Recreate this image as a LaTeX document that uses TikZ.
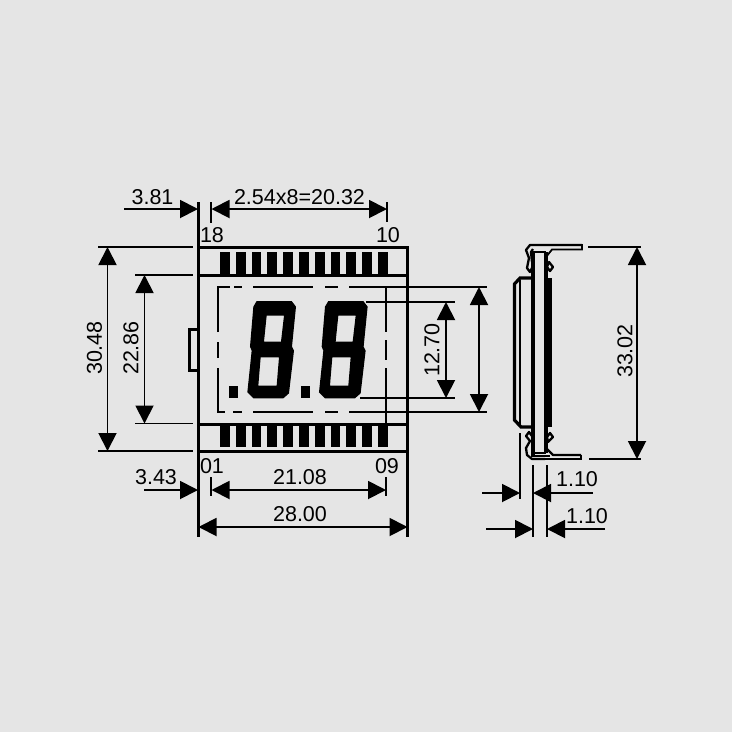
\documentclass[tikz,border=0pt]{standalone}
\usepackage{fontspec}
\setmainfont{Liberation Sans}
\usepackage{xcolor}
\usepackage{tikz}
\usetikzlibrary{arrows.meta}
\definecolor{paneback}{HTML}{E5E5E5}
\tikzset{
  dimtip/.tip={Triangle[length=18pt,width=18pt]},
  dimline/.style={line width=1.9pt},
  extline/.style={line width=1.9pt},
  framebox/.style={line width=3pt},
  dimlabel/.style={font=\fontsize{21.5}{24}\selectfont,inner sep=0pt},
  padbar/.style={fill=black,draw=none},
  clipline/.style={line width=2.3pt,line join=round},
}
\begin{document}
\begin{tikzpicture}[x=1pt,y=-1pt,>=dimtip]
\fill[paneback] (0,0) rectangle (732,732);
\useasboundingbox (0,0) rectangle (732,732);

% Points used by the dimensions
\coordinate (lt) at (198.5,247);
\coordinate (rt) at (407.5,247);
\coordinate (lb) at (198.5,451);
\coordinate (rb) at (407.5,451);

% Front view
\draw[framebox] (lt) -- (rt) -- (rb) -- (lb) -- cycle;
\draw[framebox] (198.5,275) -- (407.5,275);
\draw[framebox] (198.5,424) -- (407.5,424);
\draw[framebox] (198.5,202) -- (lt);
\draw[framebox] (lb) -- (198.5,537);
\draw[framebox] (rb) -- (407.5,537);
\draw[line width=2.4pt] (198,329.5) -- (189.5,329.5) -- (189.5,370.5) -- (198,370.5);
\foreach \i in {0,...,10}{
  \fill[padbar] ({220+15.8*\i},252) rectangle ++(9.8,22);
  \fill[padbar] ({220+15.8*\i},426) rectangle ++(9.8,21);
}

% Window
\draw[extline] (218,332) -- (218,287) -- (230,287);
\draw[extline] (234,287) -- (242,287) (253,287) -- (313,287) (325,287) -- (338,287) (349,287) -- (487,287);
\draw[extline] (218,342) -- (218,358) (218,368) -- (218,412) -- (225,412);
\draw[extline] (233,412) -- (242,412) (253,412) -- (313,412) (325,412) -- (338,412) (349,412) -- (487,412);
\draw[extline] (386,287) -- (386,332) (386,340) -- (386,360) (386,368) -- (386,424);

% Digits
\foreach \dx in {0,215}{
\begin{scope}[shift={(215,285)},x=0.3333pt,y=-0.3333pt,xshift=\dx*0.3333pt]
\fill[even odd rule] (125,48) -- (230,48) -- (243,65) -- (231,185) -- (237,197) -- (222,325) -- (205,340) -- (115,340) -- (97,322) -- (110,197) -- (105,185) -- (115,65) -- cycle
  (155,92) -- (207,92) -- (198,170) -- (147,170) -- cycle
  (137,217) -- (192,217) -- (185,302) -- (130,302) -- cycle;
\fill (42,303) rectangle (70,340);
\end{scope}
}

% Dimensions left
\draw[extline] (98,247) -- (193,247);
\draw[extline] (98,451) -- (193,451);
\draw[extline] (135,275) -- (193,275);
\draw[extline] (135,423.5) -- (193,423.5);
\draw[dimline,<->] (107.5,247) -- (107.5,451);
\draw[dimline,<->] (144.5,275) -- (144.5,423.5);
\node[dimlabel,rotate=90] (d3048) at (94.5,348) {30.48};
\node[dimlabel,rotate=90] (d2286) at (131,348) {22.86};

% Dimensions top
\draw[extline] (211,202) -- (211,223);
\draw[extline] (387,202) -- (387,222);
\draw[dimline,->] (124,209) -- (198,209);
\draw[dimline,<->] (211.5,209) -- (387,209);
\node[dimlabel] (d381) at (152.5,197) {3.81};
\node[dimlabel] (d254) at (299.5,197) {2.54x8=20.32};
\node[dimlabel] (p18) at (212,235) {18};
\node[dimlabel] (p10) at (388,235) {10};

% Dimensions bottom
\draw[extline] (211,477) -- (211,496);
\draw[extline] (386,477) -- (386,496);
\draw[dimline,->] (144,490) -- (198,490);
\draw[dimline,<->] (211.5,490) -- (386,490);
\draw[dimline,<->] (198.5,527) -- (407.5,527);
\node[dimlabel] (p01) at (212,466) {01};
\node[dimlabel] (p09) at (387,466) {09};
\node[dimlabel] (d343) at (156,477) {3.43};
\node[dimlabel] (d2108) at (300,477) {21.08};
\node[dimlabel] (d2800) at (300,514) {28.00};

% Dimensions middle
\draw[extline] (366,302) -- (455,302);
\draw[extline] (360,398) -- (455,398);
\draw[dimline,<->] (446,302) -- (446,398);
\draw[dimline,<->] (479,287) -- (479,412);
\node[dimlabel,rotate=90] (d1270) at (432,350) {12.70};

% Side view
\draw[line width=4pt] (532.5,252) -- (532.5,455);
\draw[line width=2.4pt] (532,252) -- (546,252);
\draw[line width=2.4pt] (532,453) -- (546,453);
\draw[line width=3.6pt] (546,252) -- (546,453);
\fill (545,278) rectangle (552,427);
\draw[line width=3.2pt] (531,278) -- (520,278) -- (514.5,284) -- (514.5,420) -- (521,427) -- (531,427);
\draw[line width=2.8pt] (520,280) -- (520,425);
% Clips
\draw[clipline] (582,245) -- (530,245) -- (526,250) -- (529,258) -- (527,268) -- (530,272) -- (532,268);
\draw[clipline] (533,249) -- (531,252) -- (532,262);
\draw[line width=1.8pt] (545,245) -- (582,245) -- (582,249.5) -- (552,249.5) -- (546,257);
\draw[clipline] (549,262) -- (553,267) -- (550,271) -- (547,267) -- cycle;
\draw[clipline] (581,455) -- (553,455) -- (547,449);
\draw[clipline] (550,433) -- (553,437) -- (548,442) -- (547,437) -- cycle;
\draw[line width=1.8pt] (581,455) -- (581,459) -- (532,459);
\draw[clipline] (545,459) -- (532,459) -- (527,455) -- (526,448) -- (530,441) -- (526,436) -- (529,432) -- (532,436);
\draw[line width=1.8pt] (531,456) -- (550,456);

% Dimensions side
\draw[extline] (588,247) -- (641,247);
\draw[extline] (589,459) -- (641,459);
\draw[dimline,<->] (637,247) -- (637,459);
\node[dimlabel,rotate=90] (d3302) at (625,351) {33.02};
\draw[extline] (520,433) -- (520,499);
\draw[extline] (533,465) -- (533,537);
\draw[extline] (547,465) -- (547,537);
\draw[dimline,->] (482,493) -- (520,493);
\draw[dimline,->] (593,493) -- (533,493);
\draw[dimline,->] (486,529) -- (533,529);
\draw[dimline,->] (605,529) -- (547,529);
\node[dimlabel] (d110a) at (577,479) {1.10};
\node[dimlabel] (d110b) at (587,516) {1.10};
\end{tikzpicture}
\end{document}
